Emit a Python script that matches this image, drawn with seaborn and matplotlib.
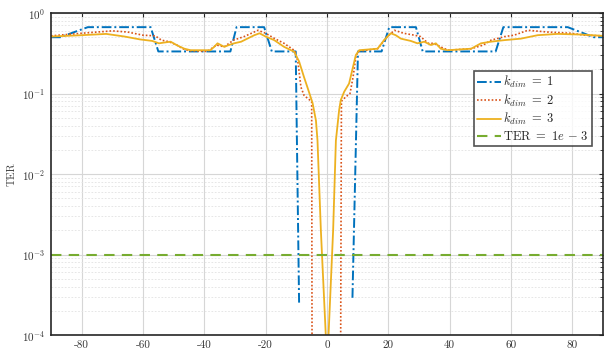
import pandas as pd
import matplotlib.pyplot as plt
import matplotlib.ticker as mticker
from matplotlib.lines import Line2D
import seaborn as sns
import numpy as np

# angle (deg) / TER values
k1_left_x = [-90, -87, -78, -57.5, -55, -31.5, -29.5, -20.5, -18, -10.2, -9.1]
k1_left_y = [0.5, 0.5, 0.667, 0.667, 0.333, 0.333, 0.667, 0.667, 0.333, 0.333, 2.5e-4]
k1_right_x = [8.3, 10.1, 17.8, 20.3, 29, 31.2, 55, 57.5, 78.5, 87, 90]
k1_right_y = [2.9e-4, 0.333, 0.333, 0.667, 0.667, 0.333, 0.333, 0.667, 0.667, 0.5, 0.5]

k2_left_x = [-90, -80, -70, -65, -60, -56, -54, -51.5, -49, -47, -45, -39, -36, -33.5,
             -30.5, -27, -22.5, -20, -17, -14, -10.5, -9.5, -8.5, -7.5, -6, -5, -4.8]
k2_left_y = [0.52, 0.56, 0.60, 0.58, 0.53, 0.52, 0.46, 0.44, 0.40, 0.36, 0.34, 0.333, 0.40, 0.38,
             0.46, 0.51, 0.61, 0.56, 0.48, 0.42, 0.34, 0.25, 0.12, 0.095, 0.085, 0.08, 1e-6]
k2_right_x = [4.3, 4.7, 6, 7.5, 8.5, 9.5, 10.5, 16.5, 19.7, 22, 25, 28.5, 30.5, 33, 35,
              37, 39.5, 47, 51, 53.5, 58, 61, 65.5, 72, 79.5, 84, 90]
k2_right_y = [1e-6, 0.08, 0.09, 0.10, 0.16, 0.30, 0.336, 0.36, 0.51, 0.61, 0.56, 0.53, 0.51, 0.42, 0.42,
              0.38, 0.345, 0.36, 0.40, 0.46, 0.51, 0.53, 0.61, 0.58, 0.56, 0.53, 0.52]

k3_x = [-90, -80, -72, -66, -61, -57, -54.8, -53, -51, -48.5, -46.5, -44.5, -38, -36.8, -35.7,
        -33.5, -32, -30.3, -28, -26, -23.7, -22, -20, -17.2, -14, -10.7, -9.1, -7.5, -6.4,
        -4.7, -3.6, -3.1, -2.0, -0.4, 0,
        0.5, 2.0, 2.9, 3.95, 4.5, 5.6, 7.2, 8.3, 9.4, 10.5, 16.5, 18.6, 20.8, 22.4, 24.1,
        27.3, 29.5, 31.7, 33.9, 35.5, 37.1, 39.3, 47, 50.2, 53.4, 57.8, 63.2, 68.7, 75.2, 82.8, 90]
k3_y = [0.51, 0.53, 0.55, 0.51, 0.47, 0.45, 0.42, 0.43, 0.44, 0.39, 0.36, 0.345, 0.345, 0.38, 0.42,
        0.38, 0.40, 0.42, 0.44, 0.48, 0.53, 0.56, 0.51, 0.46, 0.38, 0.33, 0.25, 0.16, 0.12,
        0.076, 0.046, 0.026, 2e-3, 1e-4, 1e-6,
        1e-4, 2e-3, 0.026, 0.062, 0.083, 0.105, 0.133, 0.2, 0.3, 0.345, 0.36, 0.46, 0.56, 0.53, 0.48,
        0.45, 0.42, 0.44, 0.40, 0.42, 0.36, 0.345, 0.36, 0.42, 0.44, 0.46, 0.48, 0.53, 0.55, 0.54, 0.52]

ter_x = [-90, 90]
ter_y = [1e-3, 1e-3]

labels = [r'$k_{dim}\ =\ 1$', r'$k_{dim}\ =\ 2$', r'$k_{dim}\ =\ 3$', r'$\mathrm{TER}\ =\ 1e\,-\,3$']
colors = ['#0072BD', '#D95319', '#EDB120', '#77AC30']


def segs(*parts):
    rows = []
    for i, (xs, ys) in enumerate(parts):
        rows.append(pd.DataFrame({'x': xs, 'y': ys, 'seg': i}))
    return pd.concat(rows, ignore_index=True)


df1 = segs((k1_left_x, k1_left_y), (k1_right_x, k1_right_y))
df2 = segs((k2_left_x, k2_left_y), (k2_right_x, k2_right_y))
df3 = segs((k3_x, k3_y))
df4 = segs((ter_x, ter_y))

sns.set_style('white')
plt.rcParams['font.family'] = ['cmr10', 'DejaVu Serif']
plt.rcParams['mathtext.fontset'] = 'cm'
plt.rcParams['axes.unicode_minus'] = False
plt.rcParams['axes.formatter.use_mathtext'] = True

fig = plt.figure(figsize=(6.11, 3.57), dpi=100)
ax = fig.add_axes([51 / 611, 22 / 357, 552 / 611, 322 / 357])

styles = [dict(linestyle=(0, (5, 1.5, 1, 1.5)), linewidth=1.4),
          dict(linestyle=(0, (1, 1.2)), linewidth=1.2),
          dict(linestyle='-', linewidth=1.3),
          dict(linestyle=(0, (5, 3.5)), linewidth=1.5)]

for d, c, st in zip([df1, df2, df3, df4], colors, styles):
    sns.lineplot(data=d, x='x', y='y', units='seg', estimator=None, sort=False,
                 color=c, ax=ax, legend=False, **st)

ax.set_yscale('log')
ax.set_xlim(-90, 90)
ax.set_ylim(1e-4, 1)
ax.set_xticks(np.arange(-80, 81, 20))
ax.xaxis.set_major_formatter(mticker.FuncFormatter(lambda v, p: '%d' % v))
ax.yaxis.set_minor_locator(mticker.LogLocator(base=10, subs=np.arange(2, 10)))
ax.yaxis.set_minor_formatter(mticker.NullFormatter())

ax.grid(True, which='major', color='#d6d6d6', linewidth=0.8)
ax.grid(True, which='minor', axis='y', color='#e2e2e2', linewidth=0.6, linestyle=(0, (2, 2)))
ax.set_axisbelow(True)

ax.tick_params(which='both', direction='in', top=True, right=True, colors='#262626')
ax.tick_params(which='major', length=3, width=0.8, labelsize=8, pad=4, labelcolor='#333333')
ax.tick_params(which='minor', length=2, width=0.6)
for s in ax.spines.values():
    s.set_color('#262626')
    s.set_linewidth(1.2)

ax.set_xlabel('')
ax.set_ylabel('TER', fontsize=8, color='#444444', labelpad=4)

handles = [Line2D([], [], color=c, **st) for c, st in zip(colors, styles)]
leg = ax.legend(handles, labels, loc='upper right', bbox_to_anchor=(0.98, 0.82),
                fontsize=9, frameon=True, fancybox=False, handlelength=1.9,
                handletextpad=0.2, borderpad=0.25, labelspacing=0.2, borderaxespad=0)
leg.get_frame().set_edgecolor('#262626')
leg.get_frame().set_linewidth(1.2)

plt.savefig('out.png', dpi=100)
